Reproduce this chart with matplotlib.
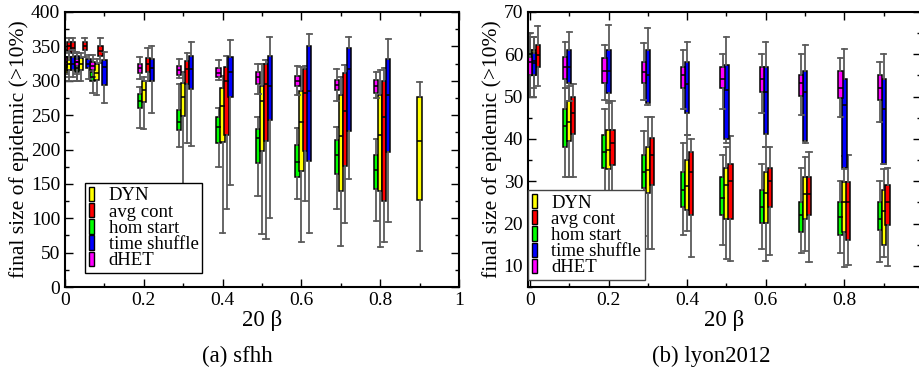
import matplotlib
matplotlib.use("Agg")
import matplotlib.pyplot as plt
from matplotlib.patches import Patch
from matplotlib.ticker import MultipleLocator, FuncFormatter

plt.rcParams['font.family'] = ['Liberation Serif', 'DejaVu Serif']

series = ["DYN", "avg cont", "hom start", "time shuffle", "dHET"]
colors = ["#ffff00", "#ff0000", "#00ff00", "#0000ff", "#ff00ff"]

# each box: (q1, median, q3, low whisker, high whisker)
# (a) sfhh
sfhh_beta = [0.0, 0.01, 0.04, 0.08, 0.2, 0.3, 0.4, 0.5, 0.6, 0.7, 0.8, 0.9]
sfhh_dyn = [(310, 322, 335, 300, 345), (315, 325, 335, 300, 345), (316, 325, 333, 300, 340),
            (301, 312, 324, 280, 332), (269, 287, 300, 230, 306), (249, 277, 297, 120, 313),
            (211, 264, 289, 78, 307), (198, 270, 293, 77, 325), (169, 240, 285, 66, 320),
            (140, 220, 279, 59, 306), (140, 221, 279, 58, 316), (127, 212, 277, 53, 298)]
sfhh_avg = [(343, 350, 356, 330, 362), (340, 348, 356, 325, 362), (345, 350, 356, 335, 362),
            (336, 344, 351, 326, 362), (313, 325, 333, 300, 347), (296, 317, 329, 210, 340),
            (221, 299, 320, 114, 336), (213, 296, 324, 70, 330), (198, 282, 317, 125, 322),
            (176, 256, 311, 93, 323), (125, 247, 300, 66, 319)]
sfhh_hom = [(315, 323, 332, 305, 340), (315, 323, 332, 305, 340), (313, 318, 325, 300, 335),
            (299, 306, 313, 282, 325), (260, 271, 281, 231, 291), (228, 240, 258, 203, 296),
            (210, 233, 248, 175, 260), (181, 217, 230, 133, 247), (160, 182, 207, 128, 231),
            (164, 192, 214, 114, 233), (142, 170, 192, 96, 216)]
sfhh_shuf = [(315, 325, 335, 305, 345), (318, 327, 336, 300, 342), (318, 325, 331, 303, 338),
             (294, 320, 330, 268, 342), (300, 319, 332, 253, 350), (288, 317, 336, 205, 356),
             (277, 313, 334, 148, 359), (243, 292, 336, 100, 364), (184, 285, 350, 79, 368),
             (227, 317, 347, 157, 363), (196, 280, 331, 95, 361)]
sfhh_dhet = [(320, 327, 335, 310, 342), (320, 327, 335, 310, 342), (322, 327, 332, 310, 340),
             (316, 322, 327, 305, 337), (312, 319, 325, 302, 335), (308, 315, 322, 304, 331),
             (305, 311, 318, 301, 330), (296, 305, 313, 281, 324), (293, 300, 307, 279, 322),
             (287, 294, 301, 271, 317), (282, 292, 301, 275, 313)]

# (b) lyon2012
lyon_beta = [0.01, 0.1, 0.2, 0.3, 0.4, 0.5, 0.6, 0.7, 0.8, 0.9]
lyon_dyn = [(55, 58, 61, 52, 64), (39.6, 44.1, 48.9, 31, 52.6), (32.9, 37.4, 42.0, 14, 49),
            (27.2, 32.7, 38.2, 14, 45.3), (23.2, 28.8, 35.1, 18.3, 41.0), (21.0, 29.2, 33.1, 11.6, 38.1),
            (20.1, 27.2, 32.1, 11.1, 38.2), (21.0, 27.0, 31.1, 13.6, 35.8), (18.1, 25.1, 29.9, 9.7, 36),
            (15.0, 23.0, 28.0, 12, 33)]
lyon_avg = [(57.1, 59.9, 62.1, 52.4, 66.8), (41.1, 46.1, 50.0, 31, 53), (33.9, 39.0, 42.0, 14, 48.9),
            (29.2, 36.1, 40.2, 14, 45.1), (22.1, 32.1, 37.0, 12.1, 40.0), (21.0, 30.1, 34.0, 11.2, 40.8),
            (24.0, 30.1, 33.1, 12.6, 38.2), (22.1, 27.0, 31.1, 11.0, 36.8), (16.1, 25.1, 29.9, 10.2, 36.1),
            (19.7, 25.1, 29.0, 10.0, 33.1)]
lyon_hom = [(55, 60, 61, 50, 64), (38.2, 43.1, 47.1, 31, 52), (33.1, 37.0, 41.0, 14, 47.1),
            (28.4, 32.1, 36.1, 17, 41.8), (24.0, 28.0, 32.1, 17.2, 39.0), (22.1, 26.0, 31.1, 15.0, 36.1),
            (20.1, 24.0, 28.0, 14.0, 34.0), (18.1, 22.1, 25.1, 13.0, 33.2), (17.2, 21.5, 25.1, 13.0, 30.1),
            (18.5, 21.0, 25.1, 10.8, 30)]
lyon_shuf = [(55.2, 58.5, 60.3, 50, 64.2), (53.2, 57.1, 61.1, 49, 65.3), (50.8, 56.1, 61.1, 48.5, 67.0),
             (48.6, 55.2, 61.1, 48.0, 66.2), (46.1, 53.0, 58.2, 41, 63.0), (40.0, 51.6, 57.4, 39, 64.1),
             (41.1, 51.1, 57.1, 38.2, 63.0), (39.6, 51.2, 56.1, 39, 62.3), (33.1, 48.1, 54.2, 33, 61.2),
             (34.0, 47.1, 54.2, 34, 60.1)]
lyon_dhet = [(55.2, 58.3, 59.3, 50, 65), (54.2, 57.1, 59.4, 52, 63), (53.3, 56.1, 59.1, 49.1, 62.3),
             (53.2, 55.9, 58.3, 49.3, 62.7), (52.0, 55.1, 57.1, 47.1, 61.1), (52.0, 54.2, 57.1, 47.1, 60.1),
             (51.2, 54.2, 57.1, 46.1, 60.1), (50.2, 53.2, 55.2, 45.7, 60.1), (49.7, 52.0, 56.1, 45.1, 59.1),
             (49.3, 52.0, 55.2, 44.1, 58.2)]

W = 919
H = 372
fig = plt.figure(figsize=(W / 100, H / 100), dpi=100)
axL = fig.add_axes([65 / W, 85 / H, 394 / W, 275 / H])
axR = fig.add_axes([528 / W, 85 / H, 393 / W, 275 / H])


def draw(ax, beta, data, offsets):
    # draw order: hom, DYN, avg, shuffle, dHET
    for i in [2, 0, 1, 3, 4]:
        stats = [dict(q1=b[0], med=b[1], q3=b[2], whislo=b[3], whishi=b[4]) for b in data[i]]
        pos = [beta[k] + offsets[i] for k in range(len(stats))]
        ax.bxp(stats, positions=pos, widths=0.011, capwidths=0.013, patch_artist=True,
               showfliers=False, manage_ticks=False,
               boxprops=dict(facecolor=colors[i], edgecolor='black', linewidth=1.1),
               medianprops=dict(color='black', linewidth=1.1),
               whiskerprops=dict(color='#5a5a5a', linewidth=1.3),
               capprops=dict(color='#5a5a5a', linewidth=1.3))


def style(ax, ymaj, ymin_):
    ax.xaxis.set_major_locator(MultipleLocator(0.2))
    ax.xaxis.set_minor_locator(MultipleLocator(0.1))
    ax.yaxis.set_major_locator(MultipleLocator(ymaj))
    ax.yaxis.set_minor_locator(MultipleLocator(ymin_))
    ax.xaxis.set_major_formatter(FuncFormatter(lambda v, p: '%g' % round(v, 2)))
    ax.tick_params(which='both', direction='in', top=True, right=True, labelsize=14)
    ax.tick_params(which='major', length=6, width=1)
    ax.tick_params(which='minor', length=3, width=1)
    for s in ax.spines.values():
        s.set_linewidth(1.5)
    ax.set_xlabel('20 β', fontsize=16.5, labelpad=1)
    ax.set_ylabel('final size of epidemic (>10%)', fontsize=15.5, labelpad=1)
    handles = [Patch(facecolor=c, edgecolor='black', linewidth=1) for c in colors]
    return handles


draw(axL, sfhh_beta, [sfhh_dyn, sfhh_avg, sfhh_hom, sfhh_shuf, sfhh_dhet],
     [0.0, 0.01, -0.01, 0.02, -0.01])
axL.set_xlim(0, 1)
axL.set_ylim(0, 400)
h = style(axL, 50, 25)
legL = axL.legend(h, series, loc='lower left', bbox_to_anchor=(0.051, 0.051), borderaxespad=0,
                  fontsize=13.5, handlelength=0.3, handleheight=0.8, handletextpad=0.75,
                  labelspacing=-0.08, borderpad=0.2, fancybox=False, framealpha=1,
                  edgecolor='black')
legL.get_frame().set_linewidth(1)

draw(axR, lyon_beta, [lyon_dyn, lyon_avg, lyon_hom, lyon_shuf, lyon_dhet],
     [0.0, 0.01, -0.01, 0.0, -0.01])
axR.set_xlim(-0.005, 0.995)
axR.set_ylim(5, 70)
h = style(axR, 10, 5)
legR = axR.legend(h, series, loc='lower left', bbox_to_anchor=(0.0, 0.025), borderaxespad=0,
                  fontsize=13.5, handlelength=0.3, handleheight=0.8, handletextpad=0.75,
                  labelspacing=-0.08, borderpad=0.2, fancybox=False, framealpha=1,
                  edgecolor='#444444')
legR.get_frame().set_linewidth(1)

fig.text(237 / W, 1 - 356 / H, '(a) sfhh', ha='center', va='center', fontsize=16.5)
fig.text(711 / W, 1 - 356 / H, '(b) lyon2012', ha='center', va='center', fontsize=16.5)

fig.savefig('out.png', dpi=100)
